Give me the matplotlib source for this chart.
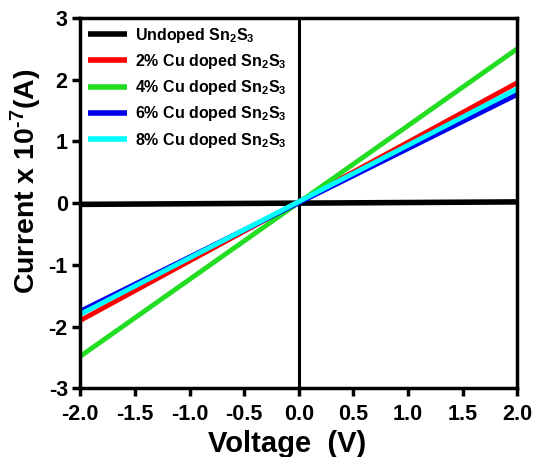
import matplotlib
matplotlib.use("Agg")
import matplotlib.pyplot as plt
import numpy as np

plt.rcParams['font.family'] = ['Liberation Sans', 'DejaVu Sans']
plt.rcParams['font.weight'] = 'bold'
plt.rcParams['mathtext.fontset'] = 'custom'
plt.rcParams['mathtext.rm'] = 'Liberation Sans:bold'
plt.rcParams['mathtext.default'] = 'rm'
plt.rcParams['axes.unicode_minus'] = False

voltage = [-2.0, 2.0]
labels = ["Undoped Sn$_2$S$_3$", "2% Cu doped Sn$_2$S$_3$", "4% Cu doped Sn$_2$S$_3$",
          "6% Cu doped Sn$_2$S$_3$", "8% Cu doped Sn$_2$S$_3$"]
undoped = [-0.02, 0.02]
cu2 = [-1.90, 1.95]
cu4 = [-2.48, 2.50]
cu6 = [-1.75, 1.76]
cu8 = [-1.80, 1.85]
colors = ["#000000", "#ff0000", "#22dd22", "#0000ee", "#00ffff"]

fig = plt.figure(figsize=(5.35, 4.57), dpi=100)
ax = fig.add_axes([0.150, 0.150, 0.817, 0.811])

widths = [4, 3.5, 3.5, 3.5, 3.5]
for ys, c, lab, w in zip([undoped, cu2, cu4, cu6, cu8], colors, labels, widths):
    ax.plot(voltage, ys, color=c, lw=w, label=lab, solid_capstyle='butt')

ax.axvline(0, color='black', lw=2.2, zorder=0)

ax.set_xlim(-2, 2)
ax.set_ylim(-3, 3)
ax.set_xticks(np.arange(-2, 2.01, 0.5))
ax.set_xticklabels([f"{v:.1f}" for v in np.arange(-2, 2.01, 0.5)])
ax.set_yticks(range(-3, 4))
ax.set_yticklabels([str(v) for v in range(-3, 4)])
ax.tick_params(direction='out', length=6, width=2.5, labelsize=15.5, pad=3)
ax.tick_params(axis='x', pad=5)
for lbl in ax.get_xticklabels() + ax.get_yticklabels():
    lbl.set_fontweight('bold')
for s in ax.spines.values():
    s.set_linewidth(2.5)

ax.set_xlabel("Voltage  (V)", fontsize=21, fontweight='bold')
ax.set_ylabel("Current x 10$^{\\text{-}7}$(A)", fontsize=20.5, fontweight='bold')
ax.xaxis.set_label_coords(0.474, -0.112)
ax.yaxis.set_label_coords(-0.084, 0.56)

leg = ax.legend(loc='upper left', frameon=False, fontsize=11.5, handlelength=2.4,
                handletextpad=0.55, labelspacing=0.45, borderaxespad=0.2,
                borderpad=0.3)
for line in leg.get_lines():
    line.set_linewidth(4)

fig.savefig("out.png", dpi=100)
